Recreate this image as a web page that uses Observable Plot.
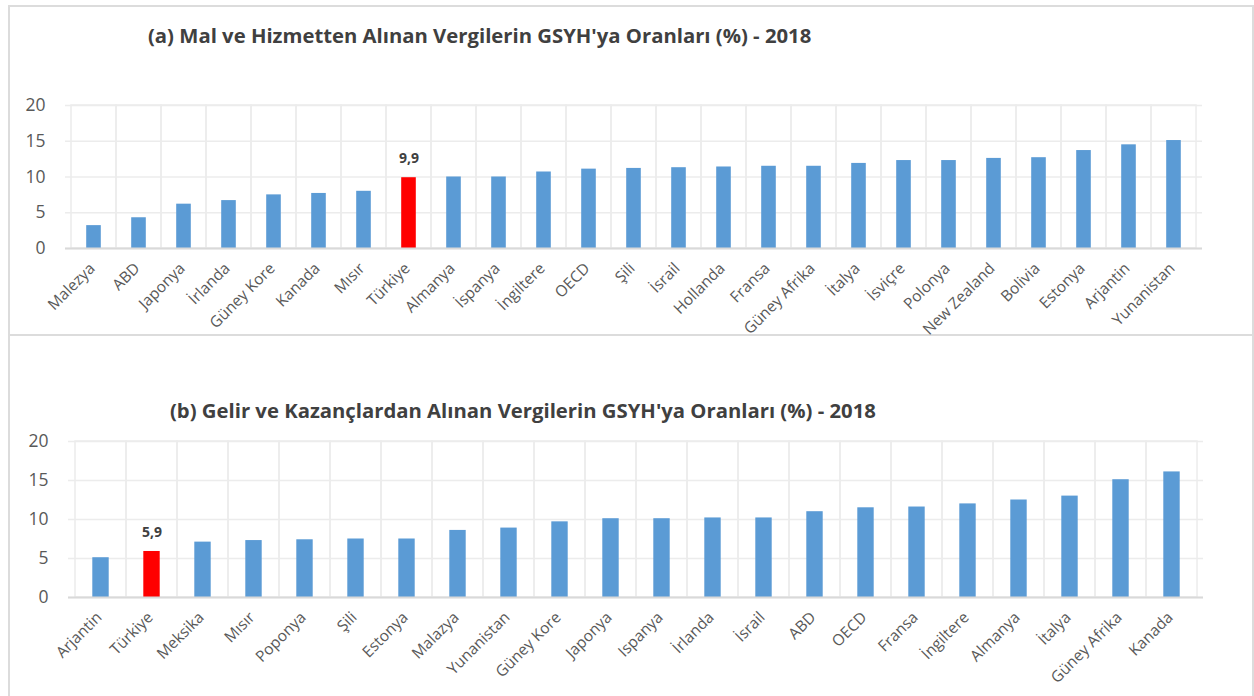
<!DOCTYPE html>
<html><head><meta charset="utf-8">
<script src="https://cdn.jsdelivr.net/npm/d3@7"></script>
<script src="https://cdn.jsdelivr.net/npm/@observablehq/plot@0.6"></script>
<style>
html,body{margin:0;padding:0;background:#fff;}
#wrap{position:relative;width:1254px;height:696px;overflow:hidden;font-family:"Open Sans",sans-serif;}
.panel{position:absolute;border:2px solid #dcdcdc;box-sizing:border-box;}
.title{position:absolute;font-weight:bold;font-size:20.3px;color:#404040;white-space:nowrap;font-family:"Open Sans",sans-serif;}
.chart{position:absolute;left:0;}
</style></head>
<body><div id="wrap">
<div class="panel" style="left:8px;top:5px;width:1246px;height:331px;"></div>
<div class="panel" style="left:8px;top:334px;width:1246px;height:380px;"></div>
<div class="title" style="left:148px;top:21px;">(a) Mal ve Hizmetten Alınan Vergilerin GSYH'ya Oranları (%) - 2018</div>
<div class="title" style="left:170px;top:396px;">(b) Gelir ve Kazançlardan Alınan Vergilerin GSYH'ya Oranları (%) - 2018</div>
<div class="chart" id="c1" style="top:90px;"></div>
<div class="chart" id="c2" style="top:426px;"></div>
</div>
<script>
const categoriesA = ["Malezya","ABD","Japonya","İrlanda","Güney Kore","Kanada","Mısır","Türkiye","Almanya","İspanya","İngiltere","OECD","Şili","İsrail","Hollanda","Fransa","Güney Afrika","İtalya","İsviçre","Polonya","New Zealand","Bolivia","Estonya","Arjantin","Yunanistan"];
const valuesA = [3.2,4.3,6.2,6.7,7.5,7.7,8.0,9.9,10.0,10.0,10.7,11.1,11.2,11.3,11.4,11.5,11.5,11.9,12.3,12.3,12.6,12.7,13.7,14.5,15.1];
const categoriesB = ["Arjantin","Türkiye","Meksika","Mısır","Poponya","Şili","Estonya","Malazya","Yunanistan","Güney Kore","Japonya","Ispanya","İrlanda","İsrail","ABD","OECD","Fransa","İngiltere","Almanya","İtalya","Güney Afrika","Kanada"];
const valuesB = [5.1,5.9,7.1,7.3,7.4,7.5,7.5,8.6,8.9,9.7,10.1,10.1,10.2,10.2,11.0,11.5,11.6,12.0,12.5,13.0,15.1,16.1];
const yTicks = [0,5,10,15,20];
const highlight = "Türkiye";
const labelFmt = v => v.toFixed(1).replace(".", ",");

function draw(cats, vals, opts) {
  const data = cats.map((c, i) => ({name: c, value: vals[i]}));
  return Plot.plot({
    width: 1254,
    height: opts.height,
    marginTop: opts.mt, marginBottom: opts.mb, marginLeft: opts.ml, marginRight: opts.mr,
    style: {fontFamily: "'Open Sans', sans-serif", color: "#595959", background: "transparent", overflow: "visible"},
    x: {domain: cats, padding: 0, label: null, axis: null},
    y: {domain: [0, 20], label: null},
    marks: [
      Plot.ruleY(yTicks, {stroke: "#ececec", strokeWidth: 1.5}),
      Plot.cell(data, {x: "name", fill: "none", stroke: "#ececec", strokeWidth: 1.5}),
      Plot.barY(data, {x: "name", y: "value", fill: d => d.name === highlight ? "#ff0000" : "#5b9bd5", insetLeft: opts.inset, insetRight: opts.inset}),
      Plot.ruleY([0], {stroke: "#d9d9d9", strokeWidth: 2}),
      Plot.text(data.filter(d => d.name === highlight), {x: "name", y: "value", text: d => labelFmt(d.value), dy: -19, fontWeight: "bold", fontSize: 14, fill: "#404040"}),
      Plot.axisY({ticks: yTicks, tickSize: 0, tickPadding: opts.yPad, fontSize: 17.5, fill: "#595959"}),
      Plot.text(data, {x: "name", frameAnchor: "bottom", text: "name", rotate: -45, textAnchor: "end", lineAnchor: "top", dx: -6, dy: 13, fontSize: 15.5, fill: "#595959"})
    ]
  });
}
document.getElementById("c1").append(draw(categoriesA, valuesA, {height: 245, mt: 15, mb: 87, ml: 65, mr: 52, inset: 15.2, yPad: 20}));
document.getElementById("c2").append(draw(categoriesB, valuesB, {height: 270, mt: 15, mb: 99, ml: 68, mr: 51, inset: 17.3, yPad: 20}));
</script>
</body></html>
